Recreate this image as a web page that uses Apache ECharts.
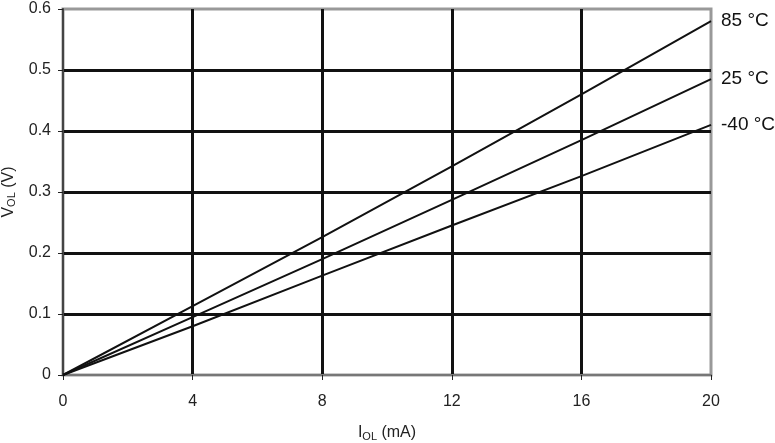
<!DOCTYPE html>
<html><head><meta charset="utf-8">
<script src="https://cdn.jsdelivr.net/npm/echarts@6/dist/echarts.min.js"></script>
<style>html,body{margin:0;padding:0;background:#fff}#c{width:775px;height:443px}</style>
</head><body><div id="c"></div>
<script>
const currents = [0, 4, 8, 12, 16, 20];
const v85 = [0, 0.113, 0.226, 0.342, 0.460, 0.580];
const v25 = [0, 0.095, 0.190, 0.287, 0.385, 0.485];
const vm40 = [0, 0.080, 0.163, 0.245, 0.326, 0.410];
const seriesNames = ['85 °C', '25 °C', '-40 °C'];
const seriesValues = [v85, v25, vm40];

const chart = echarts.init(document.getElementById('c'));
const font = 'Liberation Sans, Arial, sans-serif';
const rich = {m: {fontSize: 16, fontFamily: font, color: '#222'}, s: {fontSize: 11, fontFamily: font, color: '#222', verticalAlign: 'bottom', padding: [7,0,0,0]}};
chart.setOption({
  animation: false,
  grid: {left: 63, right: 64, top: 9, bottom: 68, show: true, borderColor: '#999', borderWidth: 3, backgroundColor: '#fff', containLabel: false, outerBoundsMode: 'none'},
  xAxis: {
    type: 'value', min: 0, max: 20, interval: 4,
    name: '{m|I}{s|OL}{m| (mA)}', nameLocation: 'middle', nameGap: 49,
    nameTextStyle: {rich: rich},
    axisLine: {show: true, lineStyle: {color: '#777', width: 2}},
    axisTick: {show: true, length: 5, lineStyle: {color: '#222', width: 1}},
    axisLabel: {fontSize: 16, fontFamily: font, color: '#222', margin: 19},
    splitLine: {show: true, showMinLine: false, showMaxLine: false, lineStyle: {color: '#111', width: 3}}
  },
  yAxis: {
    type: 'value', min: 0, max: 0.6, interval: 0.1,
    name: '{m|V}{s|OL}{m| (V)}', nameLocation: 'middle', nameGap: 44, nameRotate: 90,
    nameTextStyle: {rich: rich},
    axisLine: {show: true, lineStyle: {color: '#444', width: 2}},
    axisTick: {show: true, length: 5, lineStyle: {color: '#222', width: 1}},
    axisLabel: {fontSize: 16, fontFamily: font, color: '#222', margin: 12},
    splitLine: {show: true, showMinLine: false, showMaxLine: false, lineStyle: {color: '#111', width: 3}}
  },
  series: seriesNames.map((n, i) => ({
    name: n, type: 'line', showSymbol: false, symbol: 'none',
    data: currents.map((x, j) => [x, seriesValues[i][j]]),
    lineStyle: {color: '#111', width: 2},
    endLabel: {show: true, formatter: n, fontSize: 19, fontFamily: font, color: '#111', distance: 10},
    z: 5
  }))
});
</script></body></html>
